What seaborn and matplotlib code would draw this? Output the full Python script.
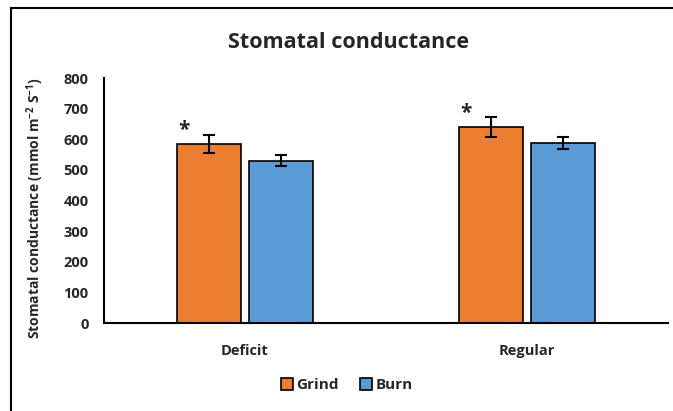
import pandas as pd
import seaborn as sns
import matplotlib.pyplot as plt
from matplotlib.lines import Line2D
from matplotlib.patches import Patch

# data
irrigation = ["Deficit", "Regular"]
treatments = ["Grind", "Burn"]
grind_mean = [584, 640]
grind_err = [29, 33]
burn_mean = [530, 587]
burn_err = [18, 19]
significant = [True, True]  # asterisk above Grind bars

colors = {"Grind": "#ED7D31", "Burn": "#5B9BD5"}

df = pd.DataFrame({
    "irrigation": irrigation * 2,
    "treatment": ["Grind"] * 2 + ["Burn"] * 2,
    "value": grind_mean + burn_mean,
    "err": grind_err + burn_err,
})

sns.set_theme(style="white")
plt.rcParams["font.family"] = ["Open Sans", "DejaVu Sans"]
plt.rcParams["mathtext.fontset"] = "custom"
plt.rcParams["mathtext.rm"] = "Open Sans"
plt.rcParams["mathtext.bf"] = "Open Sans:bold"

fig = plt.figure(figsize=(6.73, 4.11), dpi=100)
ax = fig.add_axes([104 / 673, 1 - 323 / 411, 564 / 673, 245 / 411])

sns.barplot(data=df, x="irrigation", y="value", hue="treatment",
            order=irrigation, hue_order=treatments, palette=colors,
            width=0.514, gap=0.117, errorbar=None, edgecolor="black",
            linewidth=1.2, saturation=1, legend=False, ax=ax)

# error bars + asterisks at the bar centres
for i, t in enumerate(treatments):
    cont = ax.containers[i]
    sub = df[df.treatment == t].set_index("irrigation").loc[irrigation]
    xs = [p.get_x() + p.get_width() / 2 for p in cont.patches]
    ax.errorbar(xs, sub["value"], yerr=sub["err"], fmt="none",
                ecolor="black", elinewidth=1.5, capsize=4, capthick=1.5)
    if t == "Grind":
        for p, v, s in zip(cont.patches, sub["value"], significant):
            if s:
                ax.text(p.get_x() + 0.025, v + 26, "*", ha="center",
                        va="baseline", fontsize=15, fontweight="bold")

ax.set_ylim(0, 800)
ax.set_xlim(-0.5, 1.5)
ax.set_yticks(range(0, 801, 100))
ax.tick_params(axis="y", length=0, pad=11, labelsize=10.5)
ax.tick_params(axis="x", length=0, pad=15, labelsize=10.5)
for lbl in ax.get_xticklabels() + ax.get_yticklabels():
    lbl.set_fontweight("bold")
ax.set_xlabel("")
ax.set_ylabel(r"Stomatal conductance (mmol m$^{\mathbf{-2}}$ S$^{\mathbf{-1}}$)",
              fontsize=10, fontweight="bold")
ax.yaxis.set_label_coords(-0.103, 0.47)
sns.despine(ax=ax)
for side in ["left", "bottom"]:
    ax.spines[side].set_color("black")
    ax.spines[side].set_linewidth(1.5)

fig.text(348 / 673, 1 - 42 / 411, "Stomatal conductance", ha="center",
         va="center", fontsize=15.5, fontweight="bold")

handles = [Patch(facecolor=colors[t], edgecolor="black", linewidth=1.2, label=t)
           for t in treatments]
leg = fig.legend(handles=handles, loc="center", bbox_to_anchor=(0.515, 1 - 385 / 411),
                 ncol=2, frameon=False, handlelength=0.8, handleheight=0.8,
                 handletextpad=0.2, columnspacing=1.4,
                 prop={"size": 11, "weight": "bold"})

# outer frame (top and left visible, the rest cropped)
fig.add_artist(Line2D([11 / 673, 11 / 673], [0, 1 - 8 / 411], color="black",
                      linewidth=1.5, transform=fig.transFigure))
fig.add_artist(Line2D([11 / 673, 1], [1 - 8 / 411, 1 - 8 / 411], color="black",
                      linewidth=1.5, transform=fig.transFigure))

fig.savefig("out.png", dpi=100)
